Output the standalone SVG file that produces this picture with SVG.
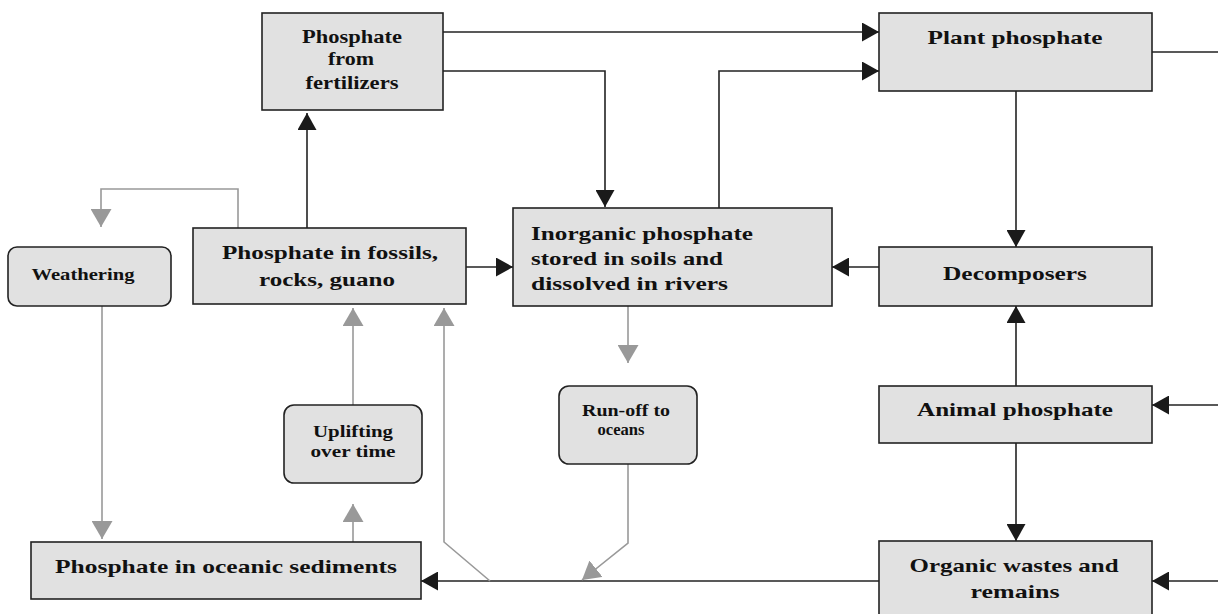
<svg xmlns="http://www.w3.org/2000/svg" width="1218" height="614" viewBox="0 0 1218 614">
<style>
.box{fill:#e1e1e1;stroke:#222;stroke-width:1.6}
.t{font-family:"Liberation Serif","Times New Roman",serif;font-weight:bold;fill:#111}
.big{font-size:19px}
.mid{font-size:19px}
.sm{font-size:17px}
.blk{fill:none;stroke:#222;stroke-width:1.6}
.gry{fill:none;stroke:#999;stroke-width:1.6}
</style>
<defs>
<marker id="ab" markerUnits="userSpaceOnUse" markerWidth="17" markerHeight="19" refX="17" refY="9.5" orient="auto" viewBox="0 0 17 19">
<path d="M0,0 L17,9.5 L0,19 z" fill="#1a1a1a"/>
</marker>
<marker id="ag" markerUnits="userSpaceOnUse" markerWidth="18" markerHeight="21" refX="18" refY="10.5" orient="auto" viewBox="0 0 18 21">
<path d="M0,0 L18,10.5 L0,21 z" fill="#999"/>
</marker>
</defs>
<rect width="1218" height="614" fill="#fff"/>
<g id="connectors">
<path class="blk" d="M307,228 V113" marker-end="url(#ab)"/>
<path class="blk" d="M443,32 H879" marker-end="url(#ab)"/>
<path class="blk" d="M443,71 H605 V207" marker-end="url(#ab)"/>
<path class="blk" d="M719,208 V71 H879" marker-end="url(#ab)"/>
<path class="blk" d="M466,267 H513" marker-end="url(#ab)"/>
<path class="blk" d="M879,267 H832" marker-end="url(#ab)"/>
<path class="blk" d="M1016,91 V247" marker-end="url(#ab)"/>
<path class="blk" d="M1016,386 V306" marker-end="url(#ab)"/>
<path class="blk" d="M1016,443 V541" marker-end="url(#ab)"/>
<path class="blk" d="M1218,405 H1152" marker-end="url(#ab)"/>
<path class="blk" d="M1218,581 H1152" marker-end="url(#ab)"/>
<path class="blk" d="M879,581 H421" marker-end="url(#ab)"/>
<path class="blk" d="M1152,52 H1218"/>
<path class="gry" d="M238,228 V189 H101 V227" marker-end="url(#ag)"/>
<path class="gry" d="M102,306 V539" marker-end="url(#ag)"/>
<path class="gry" d="M353,405 V308" marker-end="url(#ag)"/>
<path class="gry" d="M353,542 V504" marker-end="url(#ag)"/>
<path class="gry" d="M490,581 L444,542 V308" marker-end="url(#ag)"/>
<path class="gry" d="M628,306 V363" marker-end="url(#ag)"/>
<path class="gry" d="M628,464 V543 L582,580" marker-end="url(#ag)"/>
</g>
<g id="fertilizers">
<rect class="box" x="262" y="13" width="181" height="97"/>
<text class="t mid" x="352" y="43" text-anchor="middle" textLength="100" lengthAdjust="spacingAndGlyphs">Phosphate</text>
<text class="t mid" x="351" y="65" text-anchor="middle" textLength="46" lengthAdjust="spacingAndGlyphs">from</text>
<text class="t mid" x="352" y="89" text-anchor="middle" textLength="93" lengthAdjust="spacingAndGlyphs">fertilizers</text>
</g>
<g id="plant">
<rect class="box" x="879" y="13" width="273" height="78"/>
<text class="t big" x="1015" y="44" text-anchor="middle" textLength="175" lengthAdjust="spacingAndGlyphs">Plant phosphate</text>
</g>
<g id="fossils">
<rect class="box" x="193" y="228" width="273" height="76"/>
<text class="t big" x="330" y="259" text-anchor="middle" textLength="216" lengthAdjust="spacingAndGlyphs">Phosphate in fossils,</text>
<text class="t big" x="327" y="286" text-anchor="middle" textLength="136" lengthAdjust="spacingAndGlyphs">rocks, guano</text>
</g>
<g id="weathering">
<rect class="box" x="8" y="247" width="163" height="59" rx="9"/>
<text class="t sm" x="83" y="280" text-anchor="middle" textLength="103" lengthAdjust="spacingAndGlyphs">Weathering</text>
</g>
<g id="inorganic">
<rect class="box" x="513" y="208" width="319" height="98"/>
<text class="t big" x="531" y="240" textLength="222" lengthAdjust="spacingAndGlyphs">Inorganic phosphate</text>
<text class="t big" x="531" y="265" textLength="192" lengthAdjust="spacingAndGlyphs">stored in soils and</text>
<text class="t big" x="531" y="290" textLength="197" lengthAdjust="spacingAndGlyphs">dissolved in rivers</text>
</g>
<g id="decomposers">
<rect class="box" x="879" y="247" width="273" height="59"/>
<text class="t big" x="1015" y="280" text-anchor="middle" textLength="144" lengthAdjust="spacingAndGlyphs">Decomposers</text>
</g>
<g id="animal">
<rect class="box" x="879" y="386" width="273" height="57"/>
<text class="t big" x="1015" y="416" text-anchor="middle" textLength="196" lengthAdjust="spacingAndGlyphs">Animal phosphate</text>
</g>
<g id="organic">
<rect class="box" x="879" y="541" width="273" height="80"/>
<text class="t big" x="1014" y="572" text-anchor="middle" textLength="209" lengthAdjust="spacingAndGlyphs">Organic wastes and</text>
<text class="t big" x="1015" y="598" text-anchor="middle" textLength="89" lengthAdjust="spacingAndGlyphs">remains</text>
</g>
<g id="uplifting">
<rect class="box" x="284" y="405" width="138" height="78" rx="10"/>
<text class="t sm" x="353" y="437" text-anchor="middle" textLength="80" lengthAdjust="spacingAndGlyphs">Uplifting</text>
<text class="t sm" x="353" y="457" text-anchor="middle" textLength="85" lengthAdjust="spacingAndGlyphs">over time</text>
</g>
<g id="runoff">
<rect class="box" x="559" y="386" width="138" height="78" rx="10"/>
<text class="t sm" x="626" y="416" text-anchor="middle" textLength="88" lengthAdjust="spacingAndGlyphs">Run-off to</text>
<text class="t sm" x="621" y="435" text-anchor="middle" textLength="47" lengthAdjust="spacingAndGlyphs">oceans</text>
</g>
<g id="sediments">
<rect class="box" x="31" y="542" width="390" height="57"/>
<text class="t big" x="226" y="573" text-anchor="middle" textLength="342" lengthAdjust="spacingAndGlyphs">Phosphate in oceanic sediments</text>
</g>
</svg>
